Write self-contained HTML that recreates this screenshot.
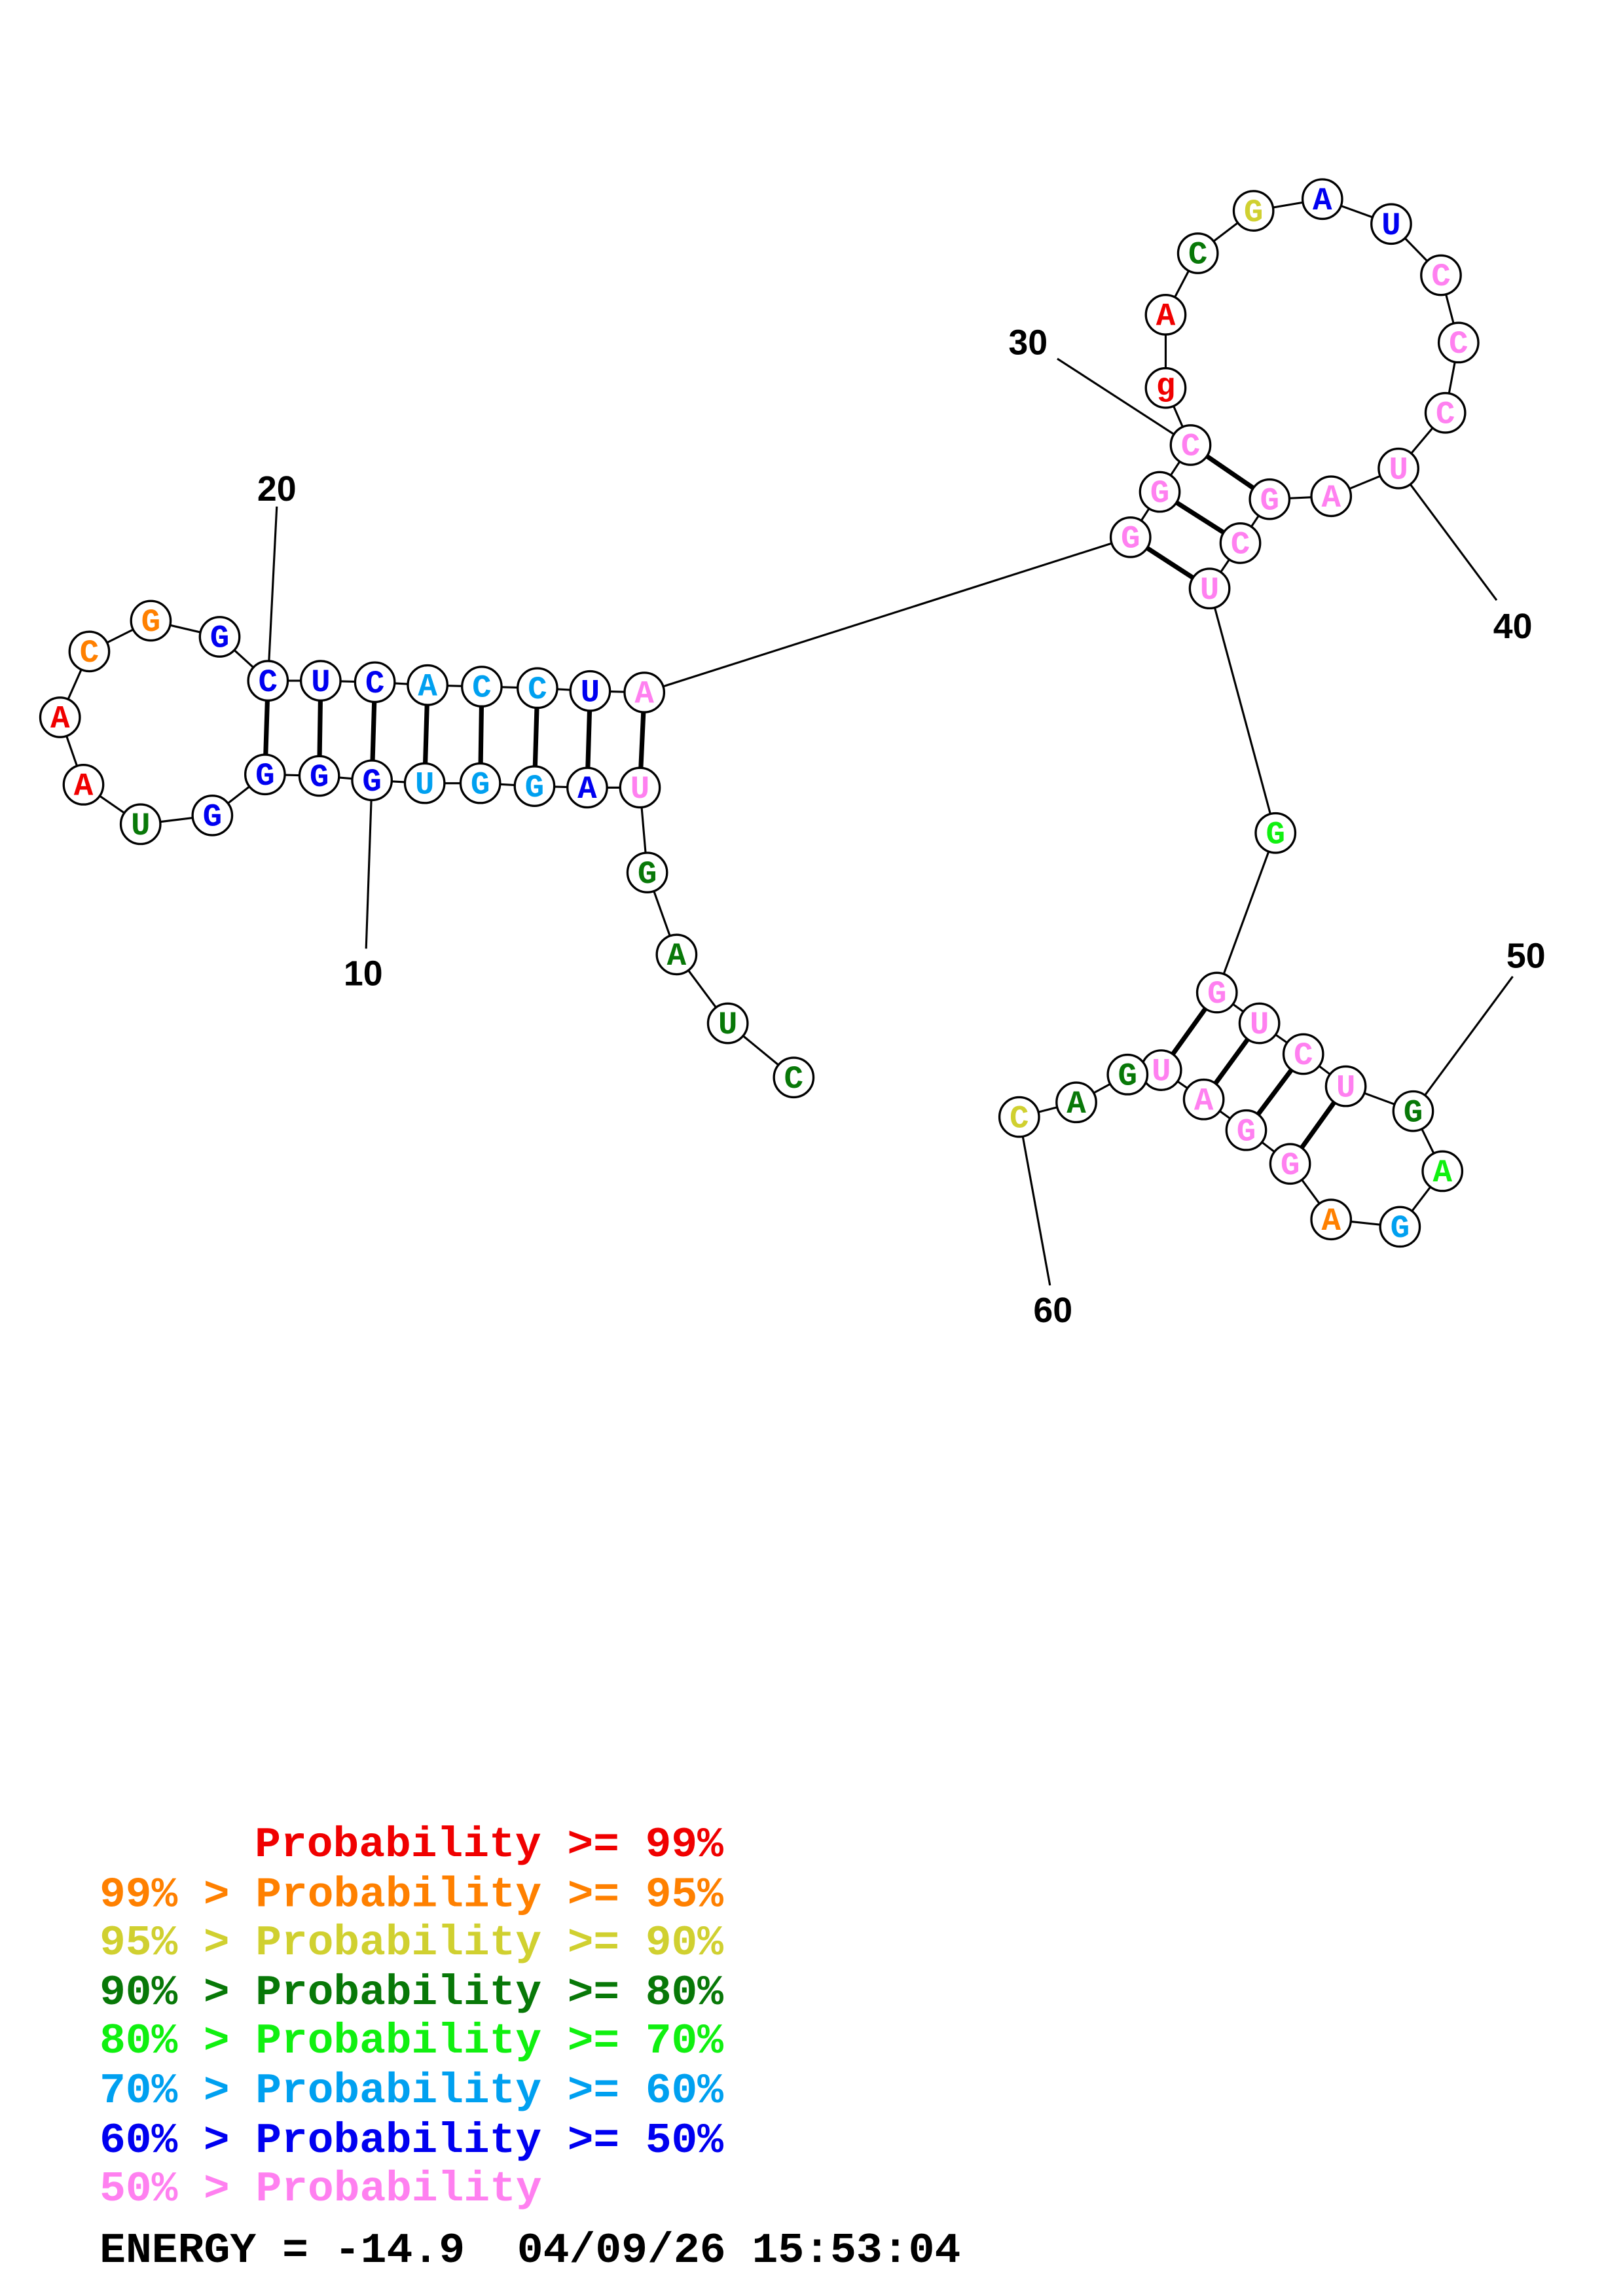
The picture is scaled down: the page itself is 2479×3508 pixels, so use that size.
<!DOCTYPE html>
<html><head><meta charset="utf-8"><style>html,body{margin:0;padding:0;background:#fff}svg{display:block}</style></head><body>
<svg width="2479" height="3508" viewBox="0 0 1108.3 1568.3" preserveAspectRatio="xMinYMin meet" xmlns="http://www.w3.org/2000/svg">
<rect width="1108.3" height="1568.3" fill="#fff"/>
<g stroke="#000" stroke-width="1.4" fill="none">
<polyline points="542,736 497,699 462,652 442,596 437,538 401,538 365,537 328,535 290,535 254,533 218,530 181,529 145,557 96,563 57,536 41,490 61,445 103,424 150,435 183,465 219,465 256,466 292,468 329,469 367,470 403,472 440,473 772,367 792,336 813,304 796,265 796,215 818,173 856,144 903,136 950,153 984,188 996,234 987,282 955,320 909,339 867,341 847,371 826,402 871,569 831,678 860,699 890,720 919,742 965,759 985,800 956,838 909,833 881,795 851,772 822,751 793,731 770,734 735,753 696,763"/>
<line x1="254" y1="533" x2="250" y2="648"/>
<line x1="183" y1="465" x2="189" y2="346"/>
<line x1="813" y1="304" x2="722" y2="245"/>
<line x1="955" y1="320" x2="1022" y2="410"/>
<line x1="965" y1="759" x2="1033" y2="667"/>
<line x1="696" y1="763" x2="717" y2="878"/>
</g>
<g stroke="#000" stroke-width="3.2">
<line x1="183" y1="465" x2="181" y2="529"/>
<line x1="219" y1="465" x2="218" y2="530"/>
<line x1="256" y1="466" x2="254" y2="533"/>
<line x1="292" y1="468" x2="290" y2="535"/>
<line x1="329" y1="469" x2="328" y2="535"/>
<line x1="367" y1="470" x2="365" y2="537"/>
<line x1="403" y1="472" x2="401" y2="538"/>
<line x1="440" y1="473" x2="437" y2="538"/>
<line x1="772" y1="367" x2="826" y2="402"/>
<line x1="792" y1="336" x2="847" y2="371"/>
<line x1="813" y1="304" x2="867" y2="341"/>
<line x1="831" y1="678" x2="793" y2="731"/>
<line x1="860" y1="699" x2="822" y2="751"/>
<line x1="890" y1="720" x2="851" y2="772"/>
<line x1="919" y1="742" x2="881" y2="795"/>
</g>
<g fill="#fff" stroke="#000" stroke-width="1.5">
<circle cx="542" cy="736" r="13.5"/><circle cx="497" cy="699" r="13.5"/><circle cx="462" cy="652" r="13.5"/><circle cx="442" cy="596" r="13.5"/><circle cx="437" cy="538" r="13.5"/><circle cx="401" cy="538" r="13.5"/><circle cx="365" cy="537" r="13.5"/><circle cx="328" cy="535" r="13.5"/><circle cx="290" cy="535" r="13.5"/><circle cx="254" cy="533" r="13.5"/><circle cx="218" cy="530" r="13.5"/><circle cx="181" cy="529" r="13.5"/><circle cx="145" cy="557" r="13.5"/><circle cx="96" cy="563" r="13.5"/><circle cx="57" cy="536" r="13.5"/><circle cx="41" cy="490" r="13.5"/><circle cx="61" cy="445" r="13.5"/><circle cx="103" cy="424" r="13.5"/><circle cx="150" cy="435" r="13.5"/><circle cx="183" cy="465" r="13.5"/><circle cx="219" cy="465" r="13.5"/><circle cx="256" cy="466" r="13.5"/><circle cx="292" cy="468" r="13.5"/><circle cx="329" cy="469" r="13.5"/><circle cx="367" cy="470" r="13.5"/><circle cx="403" cy="472" r="13.5"/><circle cx="440" cy="473" r="13.5"/><circle cx="772" cy="367" r="13.5"/><circle cx="792" cy="336" r="13.5"/><circle cx="813" cy="304" r="13.5"/><circle cx="796" cy="265" r="13.5"/><circle cx="796" cy="215" r="13.5"/><circle cx="818" cy="173" r="13.5"/><circle cx="856" cy="144" r="13.5"/><circle cx="903" cy="136" r="13.5"/><circle cx="950" cy="153" r="13.5"/><circle cx="984" cy="188" r="13.5"/><circle cx="996" cy="234" r="13.5"/><circle cx="987" cy="282" r="13.5"/><circle cx="955" cy="320" r="13.5"/><circle cx="909" cy="339" r="13.5"/><circle cx="867" cy="341" r="13.5"/><circle cx="847" cy="371" r="13.5"/><circle cx="826" cy="402" r="13.5"/><circle cx="871" cy="569" r="13.5"/><circle cx="831" cy="678" r="13.5"/><circle cx="860" cy="699" r="13.5"/><circle cx="890" cy="720" r="13.5"/><circle cx="919" cy="742" r="13.5"/><circle cx="965" cy="759" r="13.5"/><circle cx="985" cy="800" r="13.5"/><circle cx="956" cy="838" r="13.5"/><circle cx="909" cy="833" r="13.5"/><circle cx="881" cy="795" r="13.5"/><circle cx="851" cy="772" r="13.5"/><circle cx="822" cy="751" r="13.5"/><circle cx="793" cy="731" r="13.5"/><circle cx="770" cy="734" r="13.5"/><circle cx="735" cy="753" r="13.5"/><circle cx="696" cy="763" r="13.5"/>
</g>
<g font-family="'Liberation Mono', monospace" font-weight="bold" font-size="22" text-anchor="middle">
<text x="542" y="743" fill="#087808">C</text><text x="497" y="706" fill="#087808">U</text><text x="462" y="659" fill="#087808">A</text><text x="442" y="603" fill="#087808">G</text><text x="437" y="545" fill="#ff80f0">U</text><text x="401" y="545" fill="#0000f0">A</text><text x="365" y="544" fill="#00a0f0">G</text><text x="328" y="542" fill="#00a0f0">G</text><text x="290" y="542" fill="#00a0f0">U</text><text x="254" y="540" fill="#0000f0">G</text><text x="218" y="537" fill="#0000f0">G</text><text x="181" y="536" fill="#0000f0">G</text><text x="145" y="564" fill="#0000f0">G</text><text x="96" y="570" fill="#087808">U</text><text x="57" y="543" fill="#f00000">A</text><text x="41" y="497" fill="#f00000">A</text><text x="61" y="452" fill="#ff8000">C</text><text x="103" y="431" fill="#ff8000">G</text><text x="150" y="442" fill="#0000f0">G</text><text x="183" y="472" fill="#0000f0">C</text><text x="219" y="472" fill="#0000f0">U</text><text x="256" y="473" fill="#0000f0">C</text><text x="292" y="475" fill="#00a0f0">A</text><text x="329" y="476" fill="#00a0f0">C</text><text x="367" y="477" fill="#00a0f0">C</text><text x="403" y="479" fill="#0000f0">U</text><text x="440" y="480" fill="#ff80f0">A</text><text x="772" y="374" fill="#ff80f0">G</text><text x="792" y="343" fill="#ff80f0">G</text><text x="813" y="311" fill="#ff80f0">C</text><text x="796" y="270" fill="#f00000">g</text><text x="796" y="222" fill="#f00000">A</text><text x="818" y="180" fill="#087808">C</text><text x="856" y="151" fill="#d0d030">G</text><text x="903" y="143" fill="#0000f0">A</text><text x="950" y="160" fill="#0000f0">U</text><text x="984" y="195" fill="#ff80f0">C</text><text x="996" y="241" fill="#ff80f0">C</text><text x="987" y="289" fill="#ff80f0">C</text><text x="955" y="327" fill="#ff80f0">U</text><text x="909" y="346" fill="#ff80f0">A</text><text x="867" y="348" fill="#ff80f0">G</text><text x="847" y="378" fill="#ff80f0">C</text><text x="826" y="409" fill="#ff80f0">U</text><text x="871" y="576" fill="#10f010">G</text><text x="831" y="685" fill="#ff80f0">G</text><text x="860" y="706" fill="#ff80f0">U</text><text x="890" y="727" fill="#ff80f0">C</text><text x="919" y="749" fill="#ff80f0">U</text><text x="965" y="766" fill="#087808">G</text><text x="985" y="807" fill="#10f010">A</text><text x="956" y="845" fill="#00a0f0">G</text><text x="909" y="840" fill="#ff8000">A</text><text x="881" y="802" fill="#ff80f0">G</text><text x="851" y="779" fill="#ff80f0">G</text><text x="822" y="758" fill="#ff80f0">A</text><text x="793" y="738" fill="#ff80f0">U</text><text x="770" y="741" fill="#087808">G</text><text x="735" y="760" fill="#087808">A</text><text x="696" y="770" fill="#d0d030">C</text>
</g>
<g font-family="'Liberation Sans', sans-serif" font-weight="bold" font-size="24" fill="#000" text-anchor="middle">
<text x="248" y="673">10</text><text x="189" y="342">20</text><text x="702" y="242">30</text><text x="1033" y="436">40</text><text x="1042" y="661">50</text><text x="719" y="903">60</text>
</g>
<g font-family="'Liberation Mono', monospace" font-weight="bold" font-size="29">
<text x="174" y="1268" fill="#f00000" textLength="320" lengthAdjust="spacingAndGlyphs">Probability &gt;= 99%</text>
<text x="68" y="1302" fill="#ff8000" textLength="426" lengthAdjust="spacingAndGlyphs">99% &gt; Probability &gt;= 95%</text>
<text x="68" y="1335" fill="#d0d030" textLength="426" lengthAdjust="spacingAndGlyphs">95% &gt; Probability &gt;= 90%</text>
<text x="68" y="1369" fill="#087808" textLength="426" lengthAdjust="spacingAndGlyphs">90% &gt; Probability &gt;= 80%</text>
<text x="68" y="1402" fill="#10f010" textLength="426" lengthAdjust="spacingAndGlyphs">80% &gt; Probability &gt;= 70%</text>
<text x="68" y="1436" fill="#00a0f0" textLength="426" lengthAdjust="spacingAndGlyphs">70% &gt; Probability &gt;= 60%</text>
<text x="68" y="1470" fill="#0000f0" textLength="426" lengthAdjust="spacingAndGlyphs">60% &gt; Probability &gt;= 50%</text>
<text x="68" y="1503" fill="#ff80f0" textLength="302" lengthAdjust="spacingAndGlyphs">50% &gt; Probability</text>
<text x="68" y="1545" fill="#000" textLength="588" lengthAdjust="spacingAndGlyphs" xml:space="preserve">ENERGY = -14.9  04/09/26 15:53:04</text>
</g>
</svg>
</body></html>
